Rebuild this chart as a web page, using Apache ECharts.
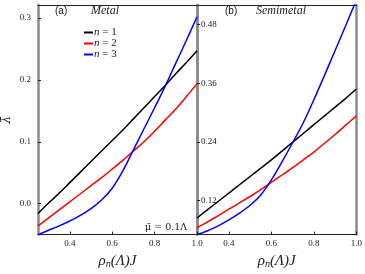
<!DOCTYPE html>
<html>
<head>
<meta charset="utf-8">
<script src="https://cdn.jsdelivr.net/npm/echarts@6.0.0/dist/echarts.min.js"></script>
<style>
html,body{margin:0;padding:0;background:#fff;}
#c{width:365px;height:274px;}
</style>
</head>
<body>
<div id="c"></div>
<script>
// ---- data ----
var xs = [0.25,0.3,0.35,0.4,0.45,0.5,0.55,0.6,0.65,0.7,0.75,0.8,0.85,0.9,0.95,1.0];
// (a) Metal
var metalN1 = [-0.016,0.001,0.017,0.034,0.051,0.068,0.085,0.102,0.119,0.137,0.155,0.173,0.191,0.210,0.228,0.247];
var metalN2 = [-0.036,-0.023,-0.010,0.003,0.016,0.029,0.042,0.056,0.070,0.085,0.100,0.117,0.135,0.153,0.173,0.194];
var metalN3 = [-0.050,-0.043,-0.036,-0.028,-0.019,-0.008,0.006,0.025,0.053,0.087,0.121,0.155,0.190,0.227,0.264,0.302];
// (b) Semimetal
var semiN1 = [0.084,0.101,0.118,0.135,0.152,0.169,0.186,0.203,0.221,0.239,0.257,0.275,0.293,0.311,0.329,0.348];
var semiN2 = [0.064,0.076,0.089,0.102,0.115,0.128,0.142,0.157,0.172,0.187,0.203,0.219,0.237,0.255,0.274,0.293];
var semiN3 = [0.050,0.058,0.068,0.080,0.094,0.110,0.131,0.162,0.199,0.238,0.279,0.326,0.376,0.427,0.478,0.530];
var xTicks = [0.4,0.6,0.8,1.0];
var yTicksA = [0.0,0.1,0.2,0.3];
var yTicksB = [0.12,0.24,0.36,0.48];
var seriesNames = ['n = 1','n = 2','n = 3'];
var colors = ['#000000','#ff0000','#0000ff'];

function pairs(x, y){ return x.map(function(v,i){ return [v, y[i]]; }); }

var serif = 'Liberation Serif';
var chart = echarts.init(document.getElementById('c'), null, {renderer:'canvas'});

function xAxisBottom(g){
  return {
    type:'value', gridIndex:g, position:'bottom', min:0.25, max:1.0,
    axisLine:{show:true, onZero:false, lineStyle:{color:'#222', width:1}},
    axisTick:{show:true, inside:true, length:3, customValues:xTicks, lineStyle:{color:'#222'}},
    axisLabel:{show:true, customValues:xTicks, margin:5, fontFamily:serif, fontSize:9, color:'#222',
      hideOverlap:false, showMinLabel:true, showMaxLabel:true,
      formatter:function(v){ return v.toFixed(1); }},
    splitLine:{show:false},
    name:'{i|ρ}{s|n}{i|(Λ)J}', nameLocation:'middle', nameGap:16,
    nameTextStyle:{rich:{
      i:{fontFamily:serif, fontStyle:'italic', fontSize:15, color:'#222'},
      s:{fontFamily:serif, fontStyle:'italic', fontSize:10, color:'#222', verticalAlign:'bottom', padding:[6,0,0,0]}
    }}
  };
}
function xAxisTop(g){
  return {
    type:'value', gridIndex:g, position:'top', min:0.25, max:1.0,
    axisLine:{show:true, onZero:false, lineStyle:{color:'#222', width:1}},
    axisTick:{show:false}, axisLabel:{show:false}, splitLine:{show:false}
  };
}
function yAxisSide(g, pos, mn, mx){
  return {
    type:'value', gridIndex:g, position:pos, min:mn, max:mx,
    axisLine:{show:true, onZero:false, lineStyle:{color:'#8a8a8a', width:2.5}},
    axisTick:{show:false}, axisLabel:{show:false}, splitLine:{show:false}
  };
}
function line(name, xi, yi, ys, c){
  return {name:name, type:'line', xAxisIndex:xi, yAxisIndex:yi, data:pairs(xs, ys), showSymbol:false,
    smooth:0.35, lineStyle:{color:c, width:1.5}, itemStyle:{color:c}};
}

var option = {
  animation:false,
  backgroundColor:'#ffffff',
  grid:[
    {left:31, right:168, top:5, bottom:36, containLabel:false},
    {left:197, right:2, top:5, bottom:36, containLabel:false}
  ],
  xAxis:[ xAxisBottom(0), xAxisTop(0), xAxisBottom(1), xAxisTop(1) ],
  yAxis:[
    {
      type:'value', gridIndex:0, position:'left', min:-0.05, max:0.321,
      axisLine:{show:true, onZero:false, lineStyle:{color:'#8a8a8a', width:2.5}},
      axisTick:{show:true, inside:true, length:3, customValues:yTicksA, lineStyle:{color:'#222'}},
      axisLabel:{show:true, customValues:yTicksA, margin:7, fontFamily:serif, fontSize:9, color:'#222',
        hideOverlap:false, showMinLabel:true, showMaxLabel:true,
        formatter:function(v){ return v.toFixed(1); }},
      splitLine:{show:false},
      name:'λ̄', nameLocation:'middle', nameGap:25, nameRotate:90,
      nameTextStyle:{fontFamily:'DejaVu Serif', fontStyle:'italic', fontSize:12, color:'#222'}
    },
    yAxisSide(0, 'right', -0.05, 0.321),
    {
      type:'value', gridIndex:1, position:'left', min:0.05, max:0.52,
      axisLine:{show:true, onZero:false, lineStyle:{color:'#8a8a8a', width:2.5}},
      axisTick:{show:true, inside:true, length:3, customValues:yTicksB, lineStyle:{color:'#222'}},
      axisLabel:{show:true, inside:true, customValues:yTicksB, margin:4, fontFamily:serif, fontSize:9, color:'#222',
        hideOverlap:false, showMinLabel:true, showMaxLabel:true,
        formatter:function(v){ return v.toFixed(2); }},
      splitLine:{show:false}
    },
    yAxisSide(1, 'right', 0.05, 0.52)
  ],
  legend:{
    data:seriesNames, orient:'vertical', left:84, top:27, padding:0, itemWidth:9, itemHeight:2, itemGap:0,
    icon:'rect',
    formatter:function(name){ return '{i|n} = ' + name.split('= ')[1]; },
    textStyle:{fontFamily:serif, fontSize:11, color:'#222', padding:[0,0,0,-4], lineHeight:11,
      rich:{i:{fontFamily:serif, fontStyle:'italic', fontSize:11, color:'#222'}}}
  },
  graphic:[
    {type:'text', left:55, top:6, style:{text:'(a)', font:'10px "Liberation Sans"', fill:'#111'}},
    {type:'text', left:91, top:5, style:{text:'Metal', font:'italic 12px "Liberation Serif"', fill:'#222'}},
    {type:'text', left:225, top:6, style:{text:'(b)', font:'10px "Liberation Sans"', fill:'#111'}},
    {type:'text', left:256, top:5, style:{text:'Semimetal', font:'italic 12px "Liberation Serif"', fill:'#222'}},
    {type:'text', left:145, top:223, style:{text:'μ̄ = 0.1Λ', font:'9.5px "DejaVu Serif"', fill:'#222'}}
  ],
  series:[
    line(seriesNames[0], 0, 0, metalN1, colors[0]),
    line(seriesNames[1], 0, 0, metalN2, colors[1]),
    line(seriesNames[2], 0, 0, metalN3, colors[2]),
    line(seriesNames[0], 2, 2, semiN1, colors[0]),
    line(seriesNames[1], 2, 2, semiN2, colors[1]),
    line(seriesNames[2], 2, 2, semiN3, colors[2])
  ]
};
chart.setOption(option);
</script>
</body>
</html>
